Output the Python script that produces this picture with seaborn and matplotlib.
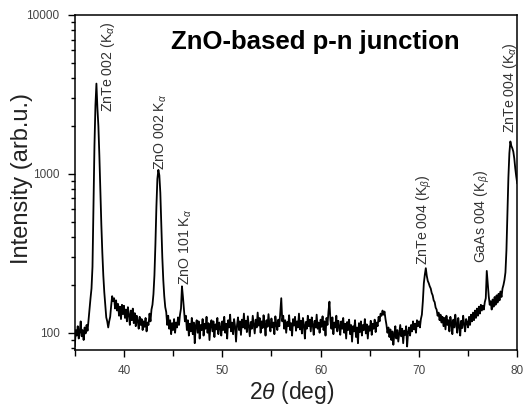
import numpy as np
import pandas as pd
import matplotlib
matplotlib.use("Agg")
import matplotlib.pyplot as plt
import seaborn as sns
from matplotlib.ticker import MultipleLocator, LogLocator, FixedLocator, FuncFormatter, NullFormatter

# ---- data: XRD scan, 2theta from 35.0 to 80.0 deg in 0.1 deg steps ----
angle_start = 35.0
angle_step = 0.1

int_35_40 = [82, 104, 96, 110, 92, 101, 118, 95, 104, 90,
             108, 99, 112, 103, 121, 140, 165, 190, 260, 600,
             1500, 2700, 3700, 2600, 2000, 1300, 780, 480, 320, 230,
             180, 150, 125, 118, 108, 118, 126, 148, 170, 158,
             165, 142, 160, 138, 152, 128, 146, 122, 150, 131]
int_40_45 = [148, 124, 140, 118, 145, 130, 112, 138, 120, 142,
             115, 133, 110, 128, 119, 106, 126, 112, 122, 104,
             118, 109, 124, 102, 116, 112, 132, 118, 140, 150,
             175, 230, 360, 620, 930, 1060, 980, 760, 480, 300,
             215, 170, 145, 135, 112, 128, 106, 120, 98, 115]
int_45_50 = [104, 122, 100, 116, 108, 125, 112, 130, 142, 196,
             168, 140, 118, 128, 104, 120, 96, 114, 102, 124,
             98, 116, 86, 110, 120, 100, 118, 92, 112, 104,
             122, 96, 114, 106, 126, 100, 115, 90, 112, 120,
             102, 118, 94, 113, 105, 124, 98, 116, 108, 96]
int_50_55 = [118, 104, 126, 100, 114, 92, 120, 108, 130, 102,
             116, 98, 122, 110, 88, 112, 125, 104, 118, 97,
             121, 108, 132, 106, 119, 101, 127, 110, 95, 117,
             106, 128, 112, 99, 121, 108, 134, 111, 124, 100,
             118, 107, 129, 114, 96, 120, 109, 131, 112, 102]
int_55_60 = [123, 108, 116, 98, 127, 112, 104, 121, 110, 135,
             165, 118, 128, 106, 120, 100, 117, 110, 129, 104,
             115, 96, 122, 111, 126, 103, 118, 108, 132, 105,
             119, 99, 124, 112, 92, 117, 106, 128, 110, 121,
             102, 125, 113, 97, 119, 108, 130, 106, 116, 100]
int_60_65 = [121, 109, 127, 104, 118, 96, 124, 112, 136, 157,
             120, 106, 125, 98, 116, 108, 128, 102, 119, 110,
             97, 118, 106, 124, 100, 114, 92, 117, 104, 121,
             98, 112, 88, 110, 102, 120, 94, 108, 86, 115,
             101, 118, 96, 112, 104, 122, 99, 113, 92, 110]
int_65_70 = [103, 119, 97, 114, 106, 121, 101, 116, 110, 126,
             118, 132, 128, 138, 130, 136, 122, 112, 100, 108,
             94, 105, 90, 102, 84, 98, 110, 92, 104, 88,
             100, 112, 95, 106, 86, 103, 97, 110, 82, 101,
             108, 96, 112, 102, 118, 105, 114, 100, 120, 110]
int_70_75 = [118, 108, 122, 130, 158, 205, 232, 255, 228, 212,
             205, 196, 190, 178, 172, 160, 156, 144, 140, 128,
             134, 120, 130, 116, 126, 110, 124, 105, 128, 112,
             120, 102, 126, 114, 98, 121, 108, 130, 112, 100,
             124, 110, 96, 119, 107, 128, 113, 102, 122, 116]
int_75_80 = [108, 126, 112, 130, 118, 134, 120, 138, 124, 142,
             128, 146, 132, 150, 138, 148, 140, 156, 165, 245,
             205, 170, 150, 158, 140, 162, 146, 168, 150, 172,
             155, 176, 160, 182, 168, 190, 200, 215, 240, 330,
             560, 950, 1350, 1600, 1500, 1450, 1380, 1250, 1080, 960,
             870]

# peak labels: text, 2theta position, intensity where the label starts
peak_labels = ["ZnTe 002 (K$_\\alpha$)", "ZnO 002 K$_\\alpha$", "ZnO 101 K$_\\alpha$",
               "ZnTe 004 (K$_\\beta$)", "GaAs 004 (K$_\\beta$)", "ZnTe 004 (K$_\\alpha$)"]
peak_label_x = [38.35, 43.75, 46.25, 70.6, 76.5, 79.3]
peak_label_y = [2450, 1060, 200, 268, 275, 1800]

title_text = "ZnO-based p-n junction"
x_label = "2$\\theta$ (deg)"
y_label = "Intensity (arb.u.)"
x_ticks = [40, 50, 60, 70, 80]
y_ticks = [100, 1000, 10000]

# ---- build table ----
intensity = np.array(int_35_40 + int_40_45 + int_45_50 + int_50_55 + int_55_60
                     + int_60_65 + int_65_70 + int_70_75 + int_75_80, dtype=float)
two_theta = np.round(angle_start + angle_step * np.arange(len(intensity)), 2)
df = pd.DataFrame({"two_theta": two_theta, "intensity": intensity})

# ---- style ----
sns.set_theme(style="ticks")
plt.rcParams["font.family"] = ["Liberation Sans", "DejaVu Sans"]
plt.rcParams["mathtext.fontset"] = "custom"
plt.rcParams["mathtext.rm"] = "Liberation Sans"
plt.rcParams["mathtext.it"] = "Liberation Sans:italic"

fig = plt.figure(figsize=(5.23, 4.05), dpi=100)
ax = fig.add_axes([0.143, 0.136, 0.846, 0.827])

sns.lineplot(data=df, x="two_theta", y="intensity", ax=ax, color="black",
             linewidth=1.3, estimator=None, sort=False)

ax.set_yscale("log")
ax.set_xlim(35, 80)
ax.set_ylim(78, 10000)

ax.xaxis.set_major_locator(FixedLocator(x_ticks))
ax.xaxis.set_minor_locator(MultipleLocator(5))
ax.yaxis.set_major_locator(FixedLocator(y_ticks))
ax.yaxis.set_minor_locator(LogLocator(base=10, subs=np.arange(2, 10)))
ax.yaxis.set_major_formatter(FuncFormatter(lambda v, p: f"{int(round(v))}"))
ax.yaxis.set_minor_formatter(NullFormatter())

ax.tick_params(axis="both", which="major", direction="out", length=5, width=1,
               labelsize=8.5, colors="black", labelcolor="#444444", pad=6,
               top=False, right=False)
ax.tick_params(axis="both", which="minor", direction="out", length=4, width=1,
               colors="black", top=False, right=False)
ax.tick_params(axis="y", which="minor", length=3)

for s in ax.spines.values():
    s.set_visible(True)
    s.set_linewidth(1.1)
    s.set_color("black")

ax.set_xlabel(x_label, fontsize=16.5, color="#222222")
ax.xaxis.set_label_coords(0.491, -0.088)
ax.set_ylabel(y_label, fontsize=17, color="#222222")
ax.yaxis.set_label_coords(-0.095, 0.513)

ax.text(0.543, 0.919, title_text, transform=ax.transAxes, ha="center", va="center",
        fontsize=18.5, fontweight="bold", color="black")

for t, xv, yv in zip(peak_labels, peak_label_x, peak_label_y):
    ax.text(xv, yv, t, rotation=90, ha="center", va="bottom", fontsize=10.2,
            color="#333333")

fig.savefig("out.png", dpi=100)
